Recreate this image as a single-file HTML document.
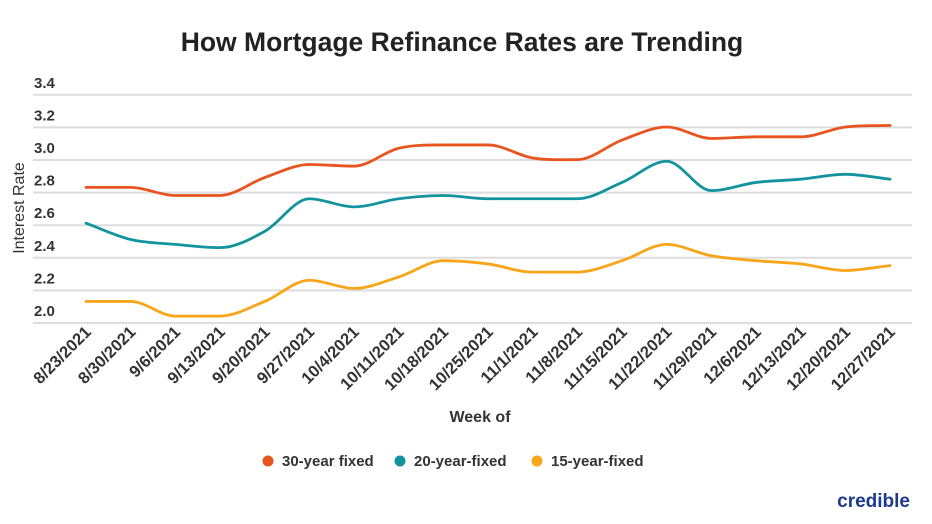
<!DOCTYPE html>
<html><head><meta charset="utf-8"><style>
html,body{margin:0;padding:0;background:#fff;}
svg{display:block;font-family:"Liberation Sans",sans-serif;}
</style></head><body>
<svg id="s" width="932" height="524" viewBox="0 0 932 524">
<text x="462" y="51" text-anchor="middle" font-size="26.5" font-weight="bold" fill="#222">How Mortgage Refinance Rates are Trending</text>
<g id="grid"></g>
<text transform="translate(24,208) rotate(-90)" text-anchor="middle" font-size="16" fill="#333">Interest Rate</text>
<text x="480" y="422" text-anchor="middle" font-size="16" font-weight="bold" fill="#333">Week of</text>
<circle cx="268" cy="461" r="5.5" fill="#e8541e"/>
<text x="282" y="466" font-size="15" font-weight="bold" fill="#333">30-year fixed</text>
<circle cx="400" cy="461" r="5.5" fill="#13939e"/>
<text x="414" y="466" font-size="15" font-weight="bold" fill="#333">20-year-fixed</text>
<circle cx="537" cy="461" r="5.5" fill="#f9a51a"/>
<text x="551" y="466" font-size="15" font-weight="bold" fill="#333">15-year-fixed</text>
<text x="910" y="507" text-anchor="end" font-size="19" font-weight="bold" fill="#1d3a8f">credible</text>
</svg>
<script>
var g=document.getElementById('grid');
function y(v){return 321-(v-2.0)*163;}
var h='';
for(var i=0;i<8;i++){var v=2+i*0.2,yy=y(v);h+='<line x1="33" x2="912" y1="'+(yy+2)+'" y2="'+(yy+2)+'" stroke="#ddd" stroke-width="2"/>';
h+='<text x="34" y="'+(yy-5)+'" font-size="15" fill="#333" font-weight="bold">'+v.toFixed(1)+'</text>';}
var labels=["8/23/2021","8/30/2021","9/6/2021","9/13/2021","9/20/2021","9/27/2021","10/4/2021","10/11/2021","10/18/2021","10/25/2021","11/1/2021","11/8/2021","11/15/2021","11/22/2021","11/29/2021","12/6/2021","12/13/2021","12/20/2021","12/27/2021"];
function x(i){return 86+i*44.67;}
labels.forEach(function(l,i){h+='<text transform="translate('+(x(i)+6)+',333) rotate(-45)" text-anchor="end" font-size="16.5" font-weight="bold" fill="#333">'+l+'</text>';});
var D=[["#e8541e",[2.82,2.82,2.77,2.77,2.88,2.96,2.95,3.06,3.08,3.08,3.00,2.99,3.11,3.19,3.12,3.13,3.13,3.19,3.20]],
["#13939e",[2.60,2.50,2.47,2.45,2.55,2.75,2.70,2.75,2.77,2.75,2.75,2.75,2.85,2.98,2.80,2.85,2.87,2.90,2.87]],
["#f9a51a",[2.12,2.12,2.03,2.03,2.12,2.25,2.20,2.27,2.37,2.35,2.30,2.30,2.37,2.47,2.40,2.37,2.35,2.31,2.34]]];
D.forEach(function(d){
var p=d[1].map(function(v,i){return [x(i),y(v)];}),n=p.length,dx=44.67;
var sl=[],m=[];for(var i=0;i<n-1;i++)sl.push((p[i+1][1]-p[i][1])/dx);
m[0]=sl[0];m[n-1]=sl[n-2];
for(var i=1;i<n-1;i++){m[i]=(sl[i-1]*sl[i]<=0)?0:(sl[i-1]+sl[i])/2;}
for(var i=0;i<n-1;i++){if(sl[i]==0){m[i]=0;m[i+1]=0;}}
var s2='M'+p[0][0]+','+p[0][1];
for(var i=0;i<n-1;i++){var t=dx/3;
s2+=' C'+(p[i][0]+t)+','+(p[i][1]+m[i]*t)+' '+(p[i+1][0]-t)+','+(p[i+1][1]-m[i+1]*t)+' '+p[i+1][0]+','+p[i+1][1];}
h+='<path d="'+s2+'" fill="none" stroke="'+d[0]+'" stroke-width="2.8" stroke-linecap="round"/>';});
g.innerHTML=h;
</script>
</body></html>
